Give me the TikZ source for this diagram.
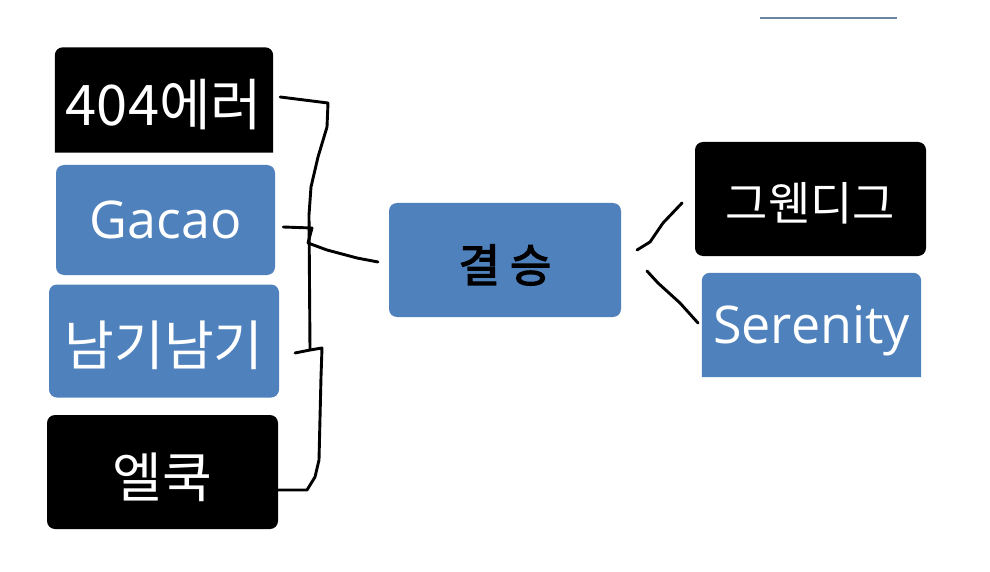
\documentclass[tikz,border=0pt]{standalone}
\usepackage{fontspec}
\setmainfont{Open Sans}
\newfontfamily\kr{Noto Sans CJK KR}
\newfontfamily\krb{Noto Sans CJK KR}[FakeBold=3]
\definecolor{obl}{HTML}{4F81BD}
\definecolor{topline}{HTML}{6A86A2}
\newcommand{\lowtxt}[2]{\raisebox{-#1}[\height][\depth]{#2}}
\pgfdeclarelayer{paper}
\pgfdeclarelayer{boxfill}
\pgfsetlayers{paper,boxfill,main}
\begin{document}
\begin{tikzpicture}[x=1pt,y=-1pt,
  box/.style={rounded corners=8pt, inner sep=0pt, text=white},
  bluebox/.style={box, fill=obl},
  blackbox/.style={box, fill=black},
  topround/.style={box},
  hand/.style={line width=2.9pt, line join=round, line cap=round}]
\begin{pgfonlayer}{paper}
\fill[white] (0,0) rectangle (990,572);
\end{pgfonlayer}
\useasboundingbox (0,0) rectangle (990,572);
% left column
\node[topround, minimum width=218pt, minimum height=105pt,
  font=\kr\fontsize{56}{56}\selectfont] (a) at (164,100) {\lowtxt{5pt}{404에러}};
\node[bluebox, minimum width=219pt, minimum height=110pt,
  font=\fontsize{52}{52}\selectfont] (b) at (165.5,220) {\lowtxt{0pt}{Gacao}};
\node[bluebox, minimum width=230pt, minimum height=113pt,
  font=\kr\fontsize{54}{54}\selectfont] (c) at (164,341) {\lowtxt{4pt}{남기남기}};
\node[blackbox, minimum width=231pt, minimum height=114pt,
  font=\kr\fontsize{54}{54}\selectfont] (d) at (162.5,472) {\lowtxt{5pt}{엘쿡}};
% centre
\node[bluebox, text=black, minimum width=232pt, minimum height=114pt,
  font=\krb\fontsize{45}{45}\selectfont] (e) at (505,260) {\lowtxt{5pt}{결\hspace{10pt}승}};
% right column
\node[blackbox, minimum width=231pt, minimum height=114pt,
  font=\kr\fontsize{46}{46}\selectfont] (f) at (810.5,199) {\lowtxt{4pt}{그웬디그}};
\node[topround, minimum width=219pt, minimum height=104pt,
  font=\fontsize{52}{52}\selectfont] (g) at (811.5,325) {\lowtxt{6pt}{Serenity}};
% boxes with rounded top and square bottom
\begin{pgfonlayer}{boxfill}
\fill[black] (a.south west) [rounded corners=8pt] -- (a.north west) -- (a.north east)
  [sharp corners] -- (a.south east) -- cycle;
\fill[obl] (g.south west) [rounded corners=8pt] -- (g.north west) -- (g.north east)
  [sharp corners] -- (g.south east) -- cycle;
\end{pgfonlayer}
% free ends
\coordinate (eL) at (378,262);
\coordinate (eR1) at (637,250);
\coordinate (eR2) at (647,271);
\coordinate (fL) at (682,203);
\coordinate (gL) at (698,323);
% hand-drawn bracket
\draw[hand] ([xshift=7pt,yshift=3pt]a.east) -- (328,103) -- (327,127) -- (318,157)
  -- (311,187) -- (309,215) -- (310,350);
\draw[hand] (295,353) -- (310,350) -- (322,348) -- (321,377) -- (319,460)
  -- (315,477) -- (307,490) -- ([yshift=-18pt]d.east);
\draw[hand] ([xshift=8pt,yshift=-7pt]b.east) -- (312,228) -- (308,243) -- (327,250)
  -- (357,258) -- (eL);
\draw[hand] (eR1) -- (650,242) -- (663,223) -- (fL);
\draw[hand] (eR2) -- (658,283) -- (680,303) -- (gL);
% faint top line
\draw[line width=1.3pt, topline] (760,18) -- (897,18);
\end{tikzpicture}
\end{document}
